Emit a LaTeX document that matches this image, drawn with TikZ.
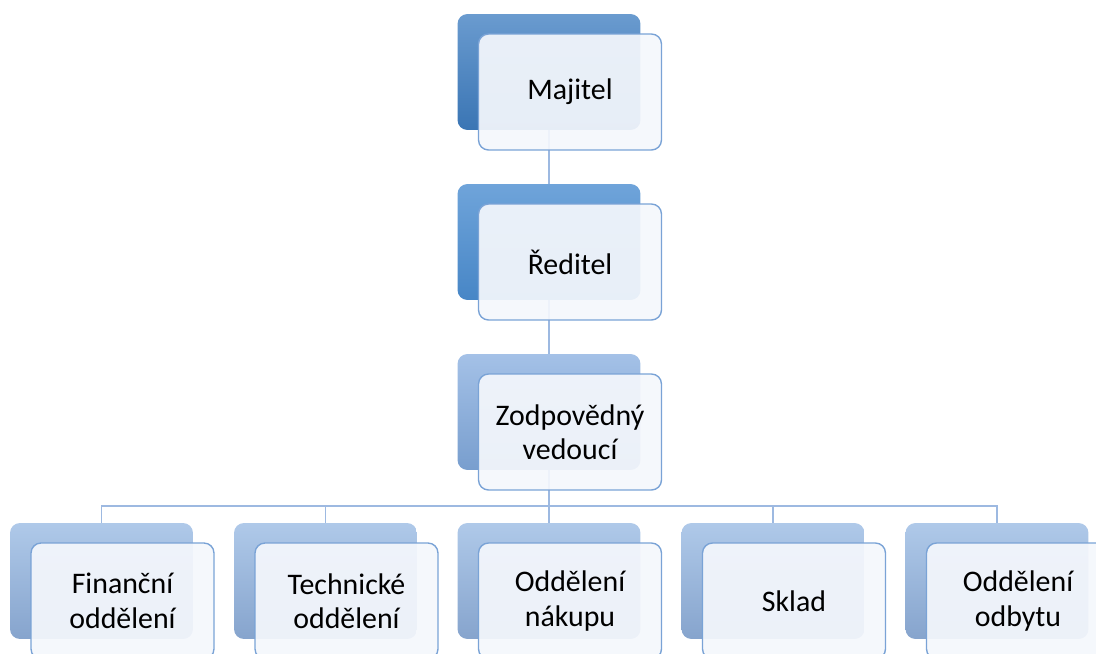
\documentclass[tikz,border=0pt]{standalone}
\usepackage{fontspec}
\setmainfont{Carlito}
\definecolor{lineblue}{HTML}{9DB9E1}
\definecolor{edgeblue}{HTML}{7AA3D6}
\definecolor{frontfill}{HTML}{F4F7FC}
\tikzset{
  back/.style={rectangle, rounded corners=0.2cm, minimum width=3.66cm, minimum height=2.32cm, inner sep=0pt},
  lvlA/.style={back, top color={rgb,255:red,106;green,155;blue,207}, bottom color={rgb,255:red,58;green,117;blue,180}},
  lvlB/.style={back, top color={rgb,255:red,111;green,164;blue,218}, bottom color={rgb,255:red,71;green,134;blue,198}},
  lvlC/.style={back, top color={rgb,255:red,164;green,193;blue,231}, bottom color={rgb,255:red,120;green,158;blue,206}},
  lvlD/.style={back, top color={rgb,255:red,175;green,201;blue,233}, bottom color={rgb,255:red,134;green,164;blue,205}},
  front/.style={back, draw=edgeblue, line width=0.8pt, fill=frontfill, fill opacity=0.93, text opacity=1, align=center, font=\fontsize{17}{19.6}\selectfont},
  link/.style={draw=lineblue, line width=0.6pt}
}
\begin{document}
\begin{tikzpicture}[x=0.02cm, y=-0.02cm]
\useasboundingbox (0,0) rectangle (1096,653);
\clip (0,0) rectangle (1096,653);
% back boxes
\node[lvlA] (b0) at (549,72){};
\node[lvlB] (b1) at (549,242){};
\node[lvlC] (b2) at (549,412){};
\node[lvlD] (b3) at (101.5,581){};
\node[lvlD] (b4) at (325.5,581){};
\node[lvlD] (b5) at (549,581){};
\node[lvlD] (b6) at (773,581){};
\node[lvlD] (b7) at (997,581){};
% connectors
\coordinate (hub) at (549,506);
\draw[link] (b0.south) -- (b1.north);
\draw[link] (b1.south) -- (b2.north);
\draw[link] (b2.south) -- (hub);
\foreach \i in {3,...,7}
  \draw[link] (hub) -| (b\i.north);
% front boxes
\node[front] (f0) at (570,92){Majitel};
\node[front] (f1) at (570,262){Ředitel};
\node[front] (f2) at (570,432){Zodpovědný\\vedoucí};
\node[front] (f3) at (122.5,601){Finanční\\oddělení};
\node[front] (f4) at (346.5,601){Technické\\oddělení};
\node[front] (f5) at (570,601){Oddělení\\nákupu};
\node[front] (f6) at (794,601){Sklad};
\node[front] (f7) at (1018,601){Oddělení\\odbytu};

\end{tikzpicture}
\end{document}
